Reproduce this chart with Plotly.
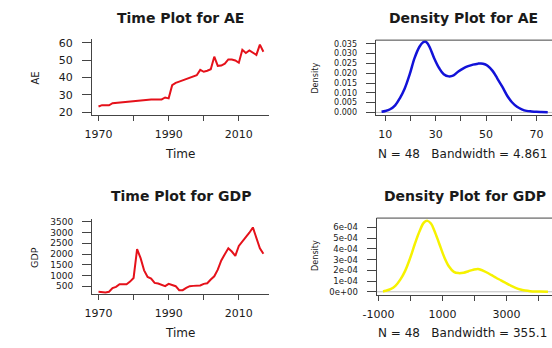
import plotly.graph_objects as go

# ---------------- data ----------------
years = list(range(1970, 2018))
ae = [23.3, 24.1, 24.0, 24.0, 25.2, 25.4, 25.6, 26.0, 26.1, 26.5,
      26.7, 26.9, 27.0, 27.2, 27.2, 27.4, 27.4, 27.4, 27.4, 28.5,
      28.0, 35.6, 36.9, 37.6, 38.3, 39.1, 39.8, 40.6, 41.3, 44.4,
      43.3, 43.9, 44.8, 52.0, 46.7, 46.9, 48.0, 50.4, 50.4, 49.8,
      48.5, 55.9, 54.1, 55.6, 54.1, 53.0, 58.9, 54.8]
gdp = [238, 208, 208, 238, 408, 470, 592, 592, 592, 715,
       885, 2223, 1808, 1238, 930, 854, 654, 623, 562, 500,
       608, 546, 500, 315, 315, 423, 500, 515, 515, 531,
       608, 638, 808, 962, 1269, 1700, 1992, 2269, 2115, 1915,
       2377, 2577, 2762, 2992, 3238, 2777, 2269, 2008]

ae_dens_x = [8.5, 10, 11.9, 13.9, 15.8, 17.7, 19.7, 21.6, 23.5, 25.0, 25.9, 26.8, 27.8,
             29.4, 31.3, 33.2, 35.2, 37.1, 39.0, 41.0, 42.9, 44.8, 46.8, 48.0, 49.5,
             50.6, 52.6, 54.5, 56.5, 58.4, 60.3, 62.3, 64.2, 66.1, 68.1, 70.0, 71.9, 74.5]
ae_dens_y = [0.0003, 0.0007, 0.0016, 0.0036, 0.0073, 0.0122, 0.0195, 0.0277, 0.0334, 0.0358,
             0.0362, 0.0352, 0.0328, 0.0277, 0.0228, 0.0195, 0.0184, 0.0189, 0.0209, 0.0225,
             0.0236, 0.0244, 0.0249, 0.0250, 0.0246, 0.0238, 0.0212, 0.0173, 0.0130, 0.0085,
             0.0052, 0.0029, 0.0016, 0.0008, 0.0005, 0.0003, 0.0002, 0.0001]

gdp_dens_x = [-860, -776, -624, -472, -319, -167, -14, 138, 290, 422, 533, 640, 748, 900,
              1052, 1205, 1357, 1500, 1662, 1814, 1967, 2110, 2221, 2373, 2525, 2678, 2830,
              2982, 3135, 3287, 3440, 3592, 3744, 3897, 4050, 4300]
gdp_dens_y = [0.000003, 0.000009, 0.000024, 0.000055, 0.000113, 0.000195, 0.000311, 0.000448,
              0.000570, 0.000646, 0.000661, 0.000636, 0.000570, 0.000448, 0.000326, 0.000235,
              0.000185, 0.000174, 0.000178, 0.000192, 0.000206, 0.000213, 0.000203, 0.000182,
              0.000157, 0.000131, 0.000107, 0.000082, 0.000058, 0.000037, 0.000021, 0.000012,
              0.000006, 0.000003, 0.000002, 0.0]

time_ticks = [1970, 1980, 1990, 2000, 2010]
time_labels = ["1970", "", "1990", "", "2010"]
ae_yticks = [20, 30, 40, 50, 60]
gdp_yticks = [500, 1000, 1500, 2000, 2500, 3000, 3500]
ae_dens_xticks = [10, 20, 30, 40, 50, 60, 70]
ae_dens_xlabels = ["10", "", "30", "", "50", "", "70"]
ae_dens_yticks = [0.0, 0.005, 0.010, 0.015, 0.020, 0.025, 0.030, 0.035]
ae_dens_ylabels = ["0.000", "0.005", "0.010", "0.015", "0.020", "0.025", "0.030", "0.035"]
gdp_dens_xticks = [-1000, 0, 1000, 2000, 3000, 4000]
gdp_dens_xlabels = ["-1000", "", "1000", "", "3000", ""]
gdp_dens_yticks = [0, 1e-4, 2e-4, 3e-4, 4e-4, 5e-4, 6e-4]
gdp_dens_ylabels = ["0e+00", "1e-04", "2e-04", "3e-04", "4e-04", "5e-04", "6e-04"]

# ---------------- styling ----------------
W, H = 552, 348
FONT = "DejaVu Sans"
TXT = "#1a1a1a"
AX = "#444444"
RED = "#e5111a"
BLUE = "#1212d8"
YELLOW = "#f6f200"


def px(p):
    return p / W


def py(p):
    return 1 - p / H


fig = go.Figure()
fig.add_trace(go.Scatter(x=years, y=ae, mode="lines", line=dict(color=RED, width=2),
                         xaxis="x", yaxis="y", hoverinfo="skip"))
fig.add_trace(go.Scatter(x=ae_dens_x, y=ae_dens_y, mode="lines",
                         line=dict(color=BLUE, width=2.5, shape="spline"),
                         xaxis="x2", yaxis="y2", hoverinfo="skip"))
fig.add_trace(go.Scatter(x=years, y=gdp, mode="lines", line=dict(color=RED, width=2),
                         xaxis="x3", yaxis="y3", hoverinfo="skip"))
fig.add_trace(go.Scatter(x=gdp_dens_x, y=gdp_dens_y, mode="lines",
                         line=dict(color=YELLOW, width=2.5, shape="spline"),
                         xaxis="x4", yaxis="y4", hoverinfo="skip"))


def xax(domain, rng, vals, text, anchor):
    return dict(domain=domain, range=rng, tickvals=vals, ticktext=text, anchor=anchor,
                showgrid=False, zeroline=False, showline=True, linecolor=AX, linewidth=1,
                ticks="outside", ticklen=5, tickcolor=AX, tickwidth=1,
                ticklabelstandoff=4,
                tickfont=dict(family=FONT, size=11, color=TXT), fixedrange=True)


def yax(domain, rng, vals, text, anchor, size=11):
    return dict(domain=domain, range=rng, tickvals=vals, ticktext=text, anchor=anchor,
                showgrid=False, zeroline=False, showline=True, linecolor=AX, linewidth=1,
                ticks="outside", ticklen=9, tickcolor=AX, tickwidth=1,
                ticklabelstandoff=7,
                tickfont=dict(family=FONT, size=size, color=TXT), fixedrange=True)


fig.update_layout(
    width=W, height=H, margin=dict(l=0, r=0, t=0, b=0),
    paper_bgcolor="white", plot_bgcolor="white", showlegend=False,
    xaxis=xax([px(80), px(262)], [1968.14, 2018.7], time_ticks, time_labels, "y"),
    yaxis=yax([py(114), py(37)], [18.6, 62], ae_yticks, [str(v) for v in ae_yticks], "x", 11),
    xaxis2=xax([px(371), 1.0], [6.13, 76.2], ae_dens_xticks, ae_dens_xlabels, "y2"),
    yaxis2=yax([py(114.5), py(37.9)], [-0.00142, 0.0369], ae_dens_yticks, ae_dens_ylabels, "x2", 8),
    xaxis3=xax([px(80), px(262)], [1968.14, 2018.7], time_ticks, time_labels, "y3"),
    yaxis3=yax([py(297), py(220)], [135, 3651], gdp_yticks, [str(v) for v in gdp_yticks], "x3", 9),
    xaxis4=xax([px(372), 1.0], [-1061, 4427], gdp_dens_xticks, gdp_dens_xlabels, "y4"),
    yaxis4=yax([py(297.6), py(219.5)], [-0.0000264, 0.000687], gdp_dens_yticks, gdp_dens_ylabels, "x4", 8.5),
)

# box tops and zero lines for density plots
shapes = []
for xa, ya in (("x2", "y2"), ("x4", "y4")):
    shapes.append(dict(type="line", xref=xa + " domain", yref=ya + " domain",
                       x0=0, x1=1, y0=1, y1=1, line=dict(color=AX, width=1)))
    shapes.append(dict(type="line", xref=xa + " domain", yref=ya,
                       x0=0, x1=1, y0=0, y1=0, line=dict(color="#bebebe", width=1),
                       layer="below"))
fig.update_layout(shapes=shapes)


def ann(text, x, y, size, bold=False, angle=0, family=FONT):
    fig.add_annotation(text=("<b>%s</b>" % text) if bold else text,
                       x=px(x), y=py(y), xref="paper", yref="paper",
                       xanchor="center", yanchor="middle", showarrow=False,
                       textangle=angle,
                       font=dict(family=family, size=size, color=TXT))


# titles
ann("Time Plot for AE", 171, 15, 14, bold=True)
ann("Density Plot for AE", 461, 15, 14, bold=True)
ann("Time Plot for GDP", 171.5, 197, 14, bold=True)
ann("Density Plot for GDP", 463, 197, 14, bold=True)
# x labels / subtitles
ann("Time", 170, 154, 12)
ann("Time", 170, 337, 12)
ann("N = 48   Bandwidth = 4.861", 460, 154, 12)
ann("N = 48   Bandwidth = 355.1", 460, 337, 12)
# y labels
ann("AE", 21.7, 77, 10, angle=-90)
ann("GDP", 21.7, 260, 9.5, angle=-90)
ann("Density", 309, 77, 9, angle=-90, family="DejaVu Sans Condensed")
ann("Density", 309, 258, 9, angle=-90, family="DejaVu Sans Condensed")

fig.write_html("out.html")
